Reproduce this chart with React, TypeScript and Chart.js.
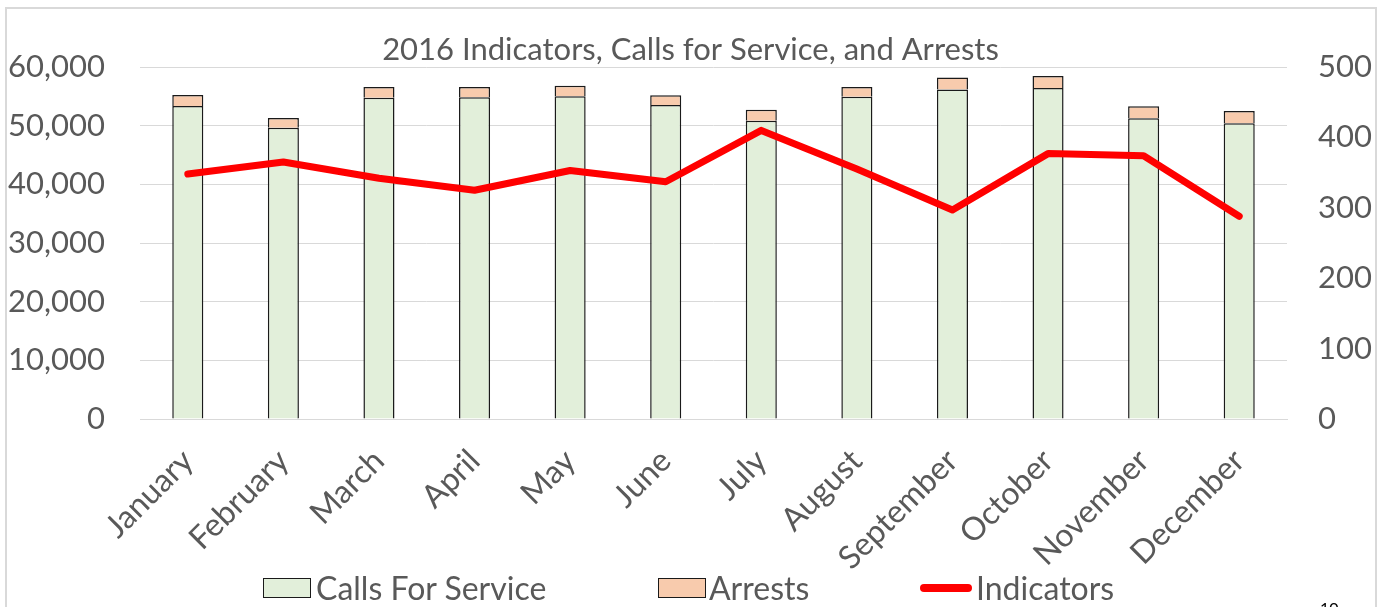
import React, { useEffect, useRef } from 'react';
import { Chart, registerables } from 'chart.js';

Chart.register(...registerables);

const months = [
  'January', 'February', 'March', 'April', 'May', 'June',
  'July', 'August', 'September', 'October', 'November', 'December',
];
const callsForService = [53350, 49650, 54770, 54830, 55000, 53520, 50850, 54940, 56180, 56420, 51250, 50400];
const arrests = [1880, 1650, 1820, 1760, 1810, 1650, 1870, 1650, 2050, 2050, 2050, 2100];
const indicators = [348, 365, 342, 325, 353, 337, 410, 355, 297, 377, 374, 288];
const leftTicks = [0, 10000, 20000, 30000, 40000, 50000, 60000];
const rightTicks = [0, 100, 200, 300, 400, 500];

const seriesNames = ['Calls For Service', 'Arrests', 'Indicators'];
const titleText = '2016 Indicators, Calls for Service, and Arrests';

const FONT = 'Lato, "Open Sans", sans-serif';
const TEXT = '#595959';
const GRID = '#d9d9d9';
const GREEN = '#E2EFDA';
const PEACH = '#F8CBAD';
const RED = '#FF0000';
const EDGE = '#1a1a1a';

export default function App() {
  const ref = useRef<HTMLCanvasElement | null>(null);

  useEffect(() => {
    if (!ref.current) return;
    const chart = new Chart(ref.current, {
      type: 'bar',
      data: {
        labels: months,
        datasets: [
          {
            type: 'line',
            label: seriesNames[2],
            data: indicators,
            yAxisID: 'y1',
            borderColor: RED,
            backgroundColor: RED,
            borderWidth: 7,
            pointRadius: 0,
            borderCapStyle: 'round',
            borderJoinStyle: 'round',
            tension: 0,
            order: 1,
          } as any,
          {
            type: 'bar',
            label: seriesNames[0],
            data: callsForService,
            yAxisID: 'y',
            backgroundColor: GREEN,
            borderColor: EDGE,
            borderWidth: 1.5,
            barPercentage: 0.325,
            categoryPercentage: 1,
            order: 2,
          },
          {
            type: 'bar',
            label: seriesNames[1],
            data: arrests,
            yAxisID: 'y',
            backgroundColor: PEACH,
            borderColor: EDGE,
            borderWidth: 1.5,
            barPercentage: 0.325,
            categoryPercentage: 1,
            order: 2,
          },
        ],
      },
      options: {
        responsive: false,
        animation: false,
        layout: { padding: { top: 32, bottom: 38, left: 0, right: 0 } },
        plugins: {
          legend: { display: false },
          tooltip: { enabled: false },
          title: {
            display: true,
            text: titleText,
            color: TEXT,
            font: { family: FONT, size: 31, weight: 'normal', lineHeight: 1.13 },
            padding: { top: 0, bottom: 0 },
          },
        },
        scales: {
          x: {
            stacked: true,
            grid: { display: false, drawTicks: false },
            border: { display: true, color: GRID, width: 1 },
            ticks: {
              autoSkip: false,
              maxRotation: 45,
              minRotation: 45,
              padding: 23,
              color: TEXT,
              font: { family: FONT, size: 32 },
            },
            afterFit: (s: any) => { s.height = 150; },
          },
          y: {
            stacked: true,
            position: 'left',
            min: 0,
            max: 60000,
            grid: { color: GRID, drawTicks: false },
            border: { display: false },
            ticks: {
              padding: 35,
              color: TEXT,
              font: { family: FONT, size: 31 },
              callback: (v: any) => Number(v).toLocaleString('en-US'),
            },
            afterBuildTicks: (s: any) => { s.ticks = leftTicks.map((v) => ({ value: v })); },
            afterFit: (s: any) => { s.width = 140; },
          },
          y1: {
            position: 'right',
            min: 0,
            max: 500,
            grid: { display: false, drawTicks: false },
            border: { display: false },
            ticks: {
              padding: 31,
              color: TEXT,
              font: { family: FONT, size: 31 },
            },
            afterBuildTicks: (s: any) => { s.ticks = rightTicks.map((v) => ({ value: v })); },
            afterFit: (s: any) => { s.width = 94; },
          },
        },
      },
    });
    return () => chart.destroy();
  }, []);

  const legendText: React.CSSProperties = {
    position: 'absolute',
    top: 570,
    fontFamily: FONT,
    fontSize: 32,
    color: TEXT,
    lineHeight: '36px',
    whiteSpace: 'nowrap',
  };

  return (
    <div style={{ position: 'absolute', left: 0, top: 0, width: 1381, height: 607, overflow: 'hidden', background: '#fff' }}>
      <div style={{ position: 'absolute', left: 5, top: 7, width: 1368, height: 700, border: `2px solid ${GRID}` }} />
      <canvas ref={ref} width={1381} height={607} style={{ position: 'absolute', left: 0, top: 0, width: 1381, height: 607 }} />
      <div style={{ position: 'absolute', left: 263, top: 578, width: 46, height: 18, background: GREEN, border: `1px solid ${EDGE}` }} />
      <div style={{ ...legendText, left: 316 }}>{seriesNames[0]}</div>
      <div style={{ position: 'absolute', left: 658, top: 578, width: 46, height: 18, background: PEACH, border: `1px solid ${EDGE}` }} />
      <div style={{ ...legendText, left: 709 }}>{seriesNames[1]}</div>
      <div style={{ position: 'absolute', left: 920, top: 584, width: 52, height: 8, background: RED, borderRadius: 4 }} />
      <div style={{ ...legendText, left: 976 }}>{seriesNames[2]}</div>
      <div style={{ position: 'absolute', left: 1320, top: 598, fontFamily: FONT, fontSize: 16, color: '#000' }}>10</div>
    </div>
  );
}
